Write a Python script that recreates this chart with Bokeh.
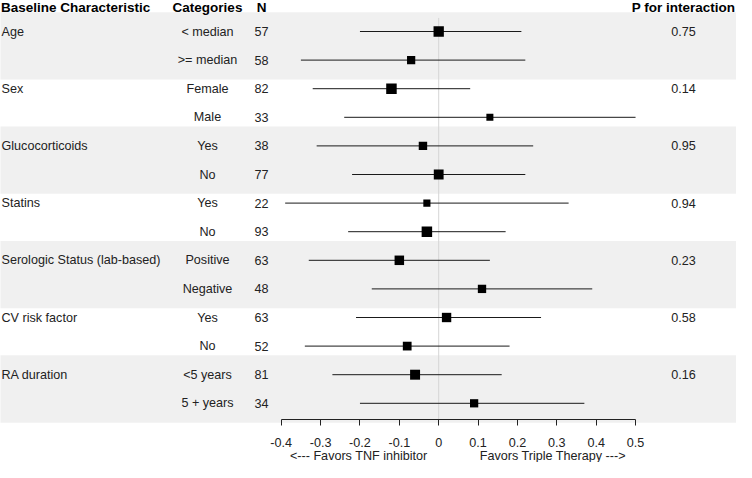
from bokeh.plotting import figure
from bokeh.models import Range1d, LinearAxis, FixedTicker
from bokeh.core.properties import value
from bokeh.embed import file_html
from bokeh.resources import INLINE

# ---------------- data ----------------
groups = ["Age", "Sex", "Glucocorticoids", "Statins",
          "Serologic Status (lab-based)", "CV risk factor", "RA duration"]
p_values = ["0.75", "0.14", "0.95", "0.94", "0.23", "0.58", "0.16"]
categories = ["< median", ">= median", "Female", "Male", "Yes", "No", "Yes", "No",
              "Positive", "Negative", "Yes", "No", "<5 years", "5 + years"]
n_values = [57, 58, 82, 33, 38, 77, 22, 93, 63, 48, 63, 52, 81, 34]
estimate = [0.00, -0.07, -0.12, 0.13, -0.04, 0.00, -0.03, -0.03,
            -0.10, 0.11, 0.02, -0.08, -0.06, 0.09]
lower = [-0.20, -0.35, -0.32, -0.24, -0.31, -0.22, -0.39, -0.23,
         -0.33, -0.17, -0.21, -0.34, -0.27, -0.20]
upper = [0.21, 0.22, 0.08, 0.50, 0.24, 0.22, 0.33, 0.17,
         0.13, 0.39, 0.26, 0.18, 0.16, 0.37]
headers = ["Baseline Characteristic", "Categories", "N", "P for interaction"]
tick_values = [-0.4, -0.3, -0.2, -0.1, 0, 0.1, 0.2, 0.3, 0.4, 0.5]
tick_labels = ["-0.4", "-0.3", "-0.2", "-0.1", "0", "0.1", "0.2", "0.3", "0.4", "0.5"]
axis_left_text = "<--- Favors TNF inhibitor"
axis_right_text = "Favors Triple Therapy --->"

# ---------------- layout helpers ----------------
W, H = 736, 462
PX_PER_UNIT = 393.7
ZERO_X = 438.2
ROW0 = 31.0
ROW_H = 28.6
AXIS_Y = 419


def xd(px):
    return (px - ZERO_X) / PX_PER_UNIT


def yd(py):
    return (py - ROW0) / ROW_H


rows = list(range(len(categories)))
group_rows = [2 * g for g in range(len(groups))]
sizes = [2.9 + 3.04 / (h - l) for l, h in zip(lower, upper)]

FONT = value("Liberation Sans")
TXT = "#222222"
FS = "12.6px"
HFS = "13.5px"

p = figure(width=W, height=H, output_backend="svg", toolbar_location=None,
           x_range=Range1d(xd(0), xd(W)), y_range=Range1d(yd(H), yd(0)),
           x_axis_location=None, y_axis_location=None,
           min_border_left=0, min_border_right=0, min_border_top=0,
           min_border_bottom=0)
p.outline_line_color = None
p.xgrid.visible = False
p.ygrid.visible = False
p.background_fill_color = "white"
p.border_fill_color = "white"

# shaded bands for alternate groups
band_ext = 0.677
shade_groups = group_rows[::2]
p.quad(left=xd(-2), right=xd(W + 2),
       top=[r - band_ext for r in shade_groups],
       bottom=[r + 1 + band_ext for r in shade_groups],
       fill_color="#f0f0f0", line_color=None)

# zero reference line
p.segment(x0=[0], y0=[yd(17.4)], x1=[0], y1=[yd(AXIS_Y)],
          line_color="#d6d6d6", line_width=1)

# confidence intervals and point estimates
p.segment(x0=lower, y0=rows, x1=upper, y1=rows, line_color="#1a1a1a", line_width=1)
p.scatter(x=estimate, y=rows, marker="square", size=sizes,
          fill_color="black", line_color=None)

# table texts
p.text(x=xd(1), y=group_rows, text=groups, text_align="left", text_baseline="middle",
       text_font=FONT, text_font_size=FS, text_color=TXT)
p.text(x=xd(207), y=rows, text=categories, text_align="center", text_baseline="middle",
       text_font=FONT, text_font_size=FS, text_color=TXT)
p.text(x=xd(261), y=rows, text=[str(v) for v in n_values], text_align="center",
       text_baseline="middle", text_font=FONT, text_font_size=FS, text_color=TXT)
p.text(x=xd(683), y=group_rows, text=p_values, text_align="center", text_baseline="middle",
       text_font=FONT, text_font_size=FS, text_color=TXT)

# headers
p.text(x=[xd(0.5)], y=[yd(7)], text=headers[:1], text_align="left", text_baseline="middle",
       text_font=FONT, text_font_size=HFS, text_font_style="bold", text_color="black")
p.text(x=[xd(207), xd(261), xd(683)], y=[yd(7)] * 3, text=headers[1:], text_align="center",
       text_baseline="middle", text_font=FONT, text_font_size=HFS,
       text_font_style="bold", text_color="black")

# x axis, drawn at a fixed location inside the frame
ax = LinearAxis(ticker=FixedTicker(ticks=tick_values), bounds=(-0.4, 0.5),
                fixed_location=yd(AXIS_Y),
                major_label_overrides=dict(zip(tick_values, tick_labels)),
                major_tick_out=6, major_tick_in=0, minor_tick_out=0, minor_tick_in=0,
                major_label_standoff=12,
                axis_line_color="#222222", major_tick_line_color="#222222",
                major_label_text_font="Liberation Sans",
                major_label_text_font_size=FS, major_label_text_color=TXT)
p.add_layout(ax, "below")

# axis caption
p.text(x=[xd(427)], y=[yd(AXIS_Y + 36)], text=[axis_left_text], text_align="right",
       text_baseline="middle", text_font=FONT, text_font_size=FS, text_color=TXT)
p.text(x=[xd(479.3)], y=[yd(AXIS_Y + 36)], text=[axis_right_text], text_align="left",
       text_baseline="middle", text_font=FONT, text_font_size=FS, text_color=TXT)

open("out.html", "w").write(file_html(p, INLINE))
